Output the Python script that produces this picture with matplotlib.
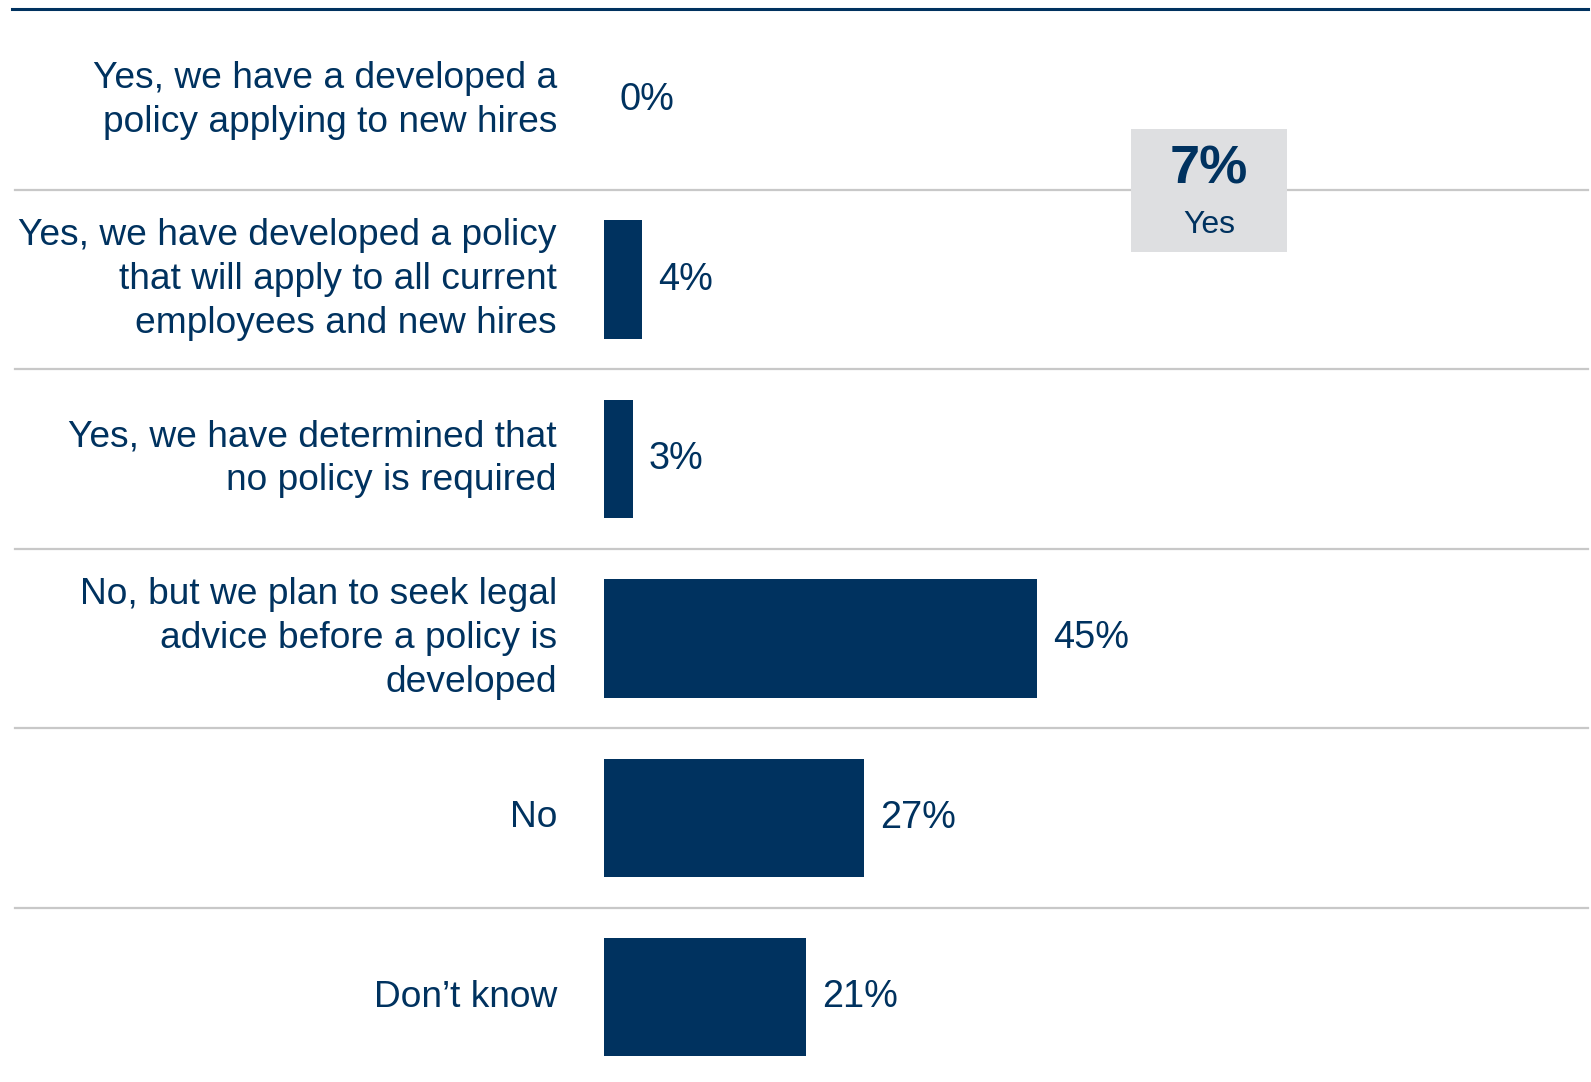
import matplotlib.pyplot as plt
from matplotlib.patches import Rectangle

plt.rcParams['font.family'] = ['Liberation Sans', 'DejaVu Sans']

# datos
categorias = [
    'Yes, we have a developed a\npolicy applying to new hires',
    'Yes, we have developed a policy\nthat will apply to all current\nemployees and new hires',
    'Yes, we have determined that\nno policy is required',
    'No, but we plan to seek legal\nadvice before a policy is\ndeveloped',
    'No',
    'Don\u2019t know',
]
valores = [0, 4, 3, 45, 27, 21]
total_si = 7
texto_si = 'Yes'

azul = '#00325f'
gris_linea = '#c8c8c8'
gris_caja = '#dedfe1'

W, H = 1591, 1082
px_por_pct = 9.62
x0 = 604  # inicio de las barras (px)
alto_fila = 179.4
y_top = 10.5

fig = plt.figure(figsize=(W / 100, H / 100), dpi=100)
ax = fig.add_axes([0, 0, 1, 1])
ax.set_xlim(-x0 / px_por_pct, (W - x0) / px_por_pct)
ax.set_ylim(5.5 + (H - y_top - 6 * alto_fila) / alto_fila, -0.5 - y_top / alto_fila)
ax.axis('off')

filas = range(len(categorias))
ax.barh(filas, valores, height=0.66, color=azul, left=0)

for i, (cat, v) in enumerate(zip(categorias, valores)):
    ax.text(557 / W, i, cat, transform=ax.get_yaxis_transform(), ha='right', va='center',
            fontsize=26.7, color=azul, linespacing=1.32)
    ax.annotate(f'{v}%', xy=(v, i), xytext=(11.5, 0), textcoords='offset points',
                ha='left', va='center', fontsize=27.3, color=azul)

# lineas separadoras
ax.plot([12 / W, 1588 / W], [1 - 9 / H, 1 - 9 / H], transform=ax.transAxes, color=azul, lw=2.2)
for i in range(1, len(categorias)):
    ax.axhline(i - 0.5, xmin=15 / W, xmax=1588 / W, color=gris_linea, lw=1.6)

# caja resumen
caja = Rectangle((1131 / W, 1 - 252 / H), 156 / W, 123 / H, transform=ax.transAxes,
                 facecolor=gris_caja, edgecolor='none', zorder=5)
ax.add_patch(caja)
ax.text(1209 / W, 1 - 170 / H, f'{total_si}%', transform=ax.transAxes, ha='center', va='center',
        fontsize=39, fontweight='bold', color=azul, zorder=6)
ax.text(1209 / W, 1 - 225 / H, texto_si, transform=ax.transAxes, ha='center', va='center',
        fontsize=23, color=azul, zorder=6)

fig.savefig('out.png', dpi=100)
